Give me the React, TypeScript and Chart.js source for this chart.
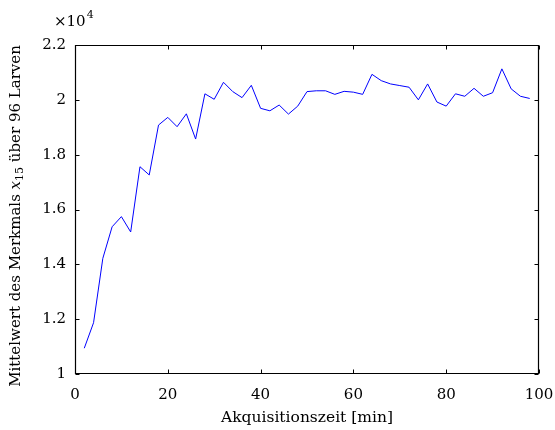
import React, { useEffect, useRef } from "react";
import { Chart, registerables } from "chart.js";

Chart.register(...registerables);

// Acquisition time in minutes
const minutes = [
  2, 4, 6, 8, 10, 12, 14, 16, 18, 20, 22, 24, 26, 28, 30, 32, 34, 36, 38, 40,
  42, 44, 46, 48, 50, 52, 54, 56, 58, 60, 62, 64, 66, 68, 70, 72, 74, 76, 78,
  80, 82, 84, 86, 88, 90, 92, 94, 96, 98,
];

// Mean value of feature x15 over 96 larvae
const meanValues = [
  10940, 11870, 14220, 15370, 15740, 15180, 17560, 17260, 19080, 19360,
  19020, 19490, 18570, 20220, 20020, 20640, 20300, 20080, 20530, 19690,
  19600, 19810, 19480, 19770, 20300, 20330, 20330, 20200, 20310, 20280,
  20200, 20930, 20700, 20580, 20520, 20460, 20000, 20580, 19920, 19770,
  20220, 20130, 20420, 20130, 20260, 21130, 20400, 20130, 20050,
];

const xTicks = [0, 20, 40, 60, 80, 100];
const yTicks = [10000, 12000, 14000, 16000, 18000, 20000, 22000];

const xTitle = "Akquisitionszeit [min]";
const yTitleBefore = "Mittelwert des Merkmals ";
const yTitleVar = "x";
const yTitleSub = "15";
const yTitleAfter = " über 96 Larven";
const scaleBase = "×10";
const scaleExp = "4";

const FONT = "'DejaVu Serif', serif";

const framePlugin = {
  id: "frameAndTitles",
  afterDraw(chart: any) {
    const { ctx, chartArea } = chart;
    const { left, right, top, bottom } = chartArea;
    const xs = chart.scales.x;
    const ys = chart.scales.y;
    ctx.save();
    ctx.strokeStyle = "#000";
    ctx.lineWidth = 1.2;
    const L = Math.round(left) + 0.5;
    const R = Math.round(right) - 0.5;
    const T = Math.round(top) + 0.5;
    const B = Math.round(bottom) - 0.5;
    ctx.beginPath();
    ctx.moveTo(L, T);
    ctx.lineTo(R, T);
    ctx.lineTo(R, B);
    ctx.lineTo(L, B);
    ctx.closePath();
    ctx.stroke();

    const tl = 4;
    ctx.lineWidth = 1;
    ctx.beginPath();
    xTicks.forEach((v) => {
      const px = Math.round(xs.getPixelForValue(v)) + 0.5;
      ctx.moveTo(px, B);
      ctx.lineTo(px, B - tl);
      ctx.moveTo(px, T);
      ctx.lineTo(px, T + tl);
    });
    yTicks.forEach((v) => {
      const py = Math.round(ys.getPixelForValue(v)) + 0.5;
      ctx.moveTo(L, py);
      ctx.lineTo(L + tl, py);
      ctx.moveTo(R, py);
      ctx.lineTo(R - tl, py);
    });
    ctx.stroke();

    ctx.fillStyle = "#000";
    // x title
    ctx.font = `15.5px ${FONT}`;
    ctx.textAlign = "center";
    ctx.textBaseline = "middle";
    ctx.fillText(xTitle, (left + right) / 2, 418);

    // y title (rotated, with italic variable and subscript)
    const mainFont = `15px ${FONT}`;
    const italFont = `italic 15px ${FONT}`;
    const subFont = `11px ${FONT}`;
    ctx.font = mainFont;
    const w1 = ctx.measureText(yTitleBefore).width;
    const w4 = ctx.measureText(yTitleAfter).width;
    ctx.font = italFont;
    const w2 = ctx.measureText(yTitleVar).width;
    ctx.font = subFont;
    const w3 = ctx.measureText(yTitleSub).width;
    const total = w1 + w2 + w3 + w4;
    ctx.save();
    ctx.translate(16, 216);
    ctx.rotate(-Math.PI / 2);
    ctx.textAlign = "left";
    ctx.textBaseline = "middle";
    let cx = -total / 2;
    ctx.font = mainFont;
    ctx.fillText(yTitleBefore, cx, 0);
    cx += w1;
    ctx.font = italFont;
    ctx.fillText(yTitleVar, cx, 0);
    cx += w2;
    ctx.font = subFont;
    ctx.fillText(yTitleSub, cx, 4);
    cx += w3;
    ctx.font = mainFont;
    ctx.fillText(yTitleAfter, cx, 0);
    ctx.restore();

    // x10^4 multiplier
    ctx.textAlign = "left";
    ctx.textBaseline = "middle";
    ctx.font = `15px ${FONT}`;
    const bx = 54;
    ctx.fillText(scaleBase, bx, 22);
    const bw = ctx.measureText(scaleBase).width;
    ctx.font = `11px ${FONT}`;
    ctx.fillText(scaleExp, bx + bw + 1, 15);
    ctx.restore();
  },
};

export default function App() {
  const canvasRef = useRef<HTMLCanvasElement | null>(null);

  useEffect(() => {
    if (!canvasRef.current) return;
    const data = minutes.map((m, i) => ({ x: m, y: meanValues[i] }));
    const chart = new Chart(canvasRef.current, {
      type: "line",
      data: {
        datasets: [
          {
            data,
            borderColor: "#0000ff",
            borderWidth: 1,
            pointRadius: 0,
            tension: 0,
            fill: false,
          },
        ],
      },
      options: {
        animation: false,
        responsive: false,
        maintainAspectRatio: false,
        layout: { padding: { top: 45, right: 16, left: 0, bottom: 0 } },
        plugins: {
          legend: { display: false },
          tooltip: { enabled: false },
        },
        scales: {
          x: {
            type: "linear",
            min: 0,
            max: 100,
            afterBuildTicks: (s: any) => {
              s.ticks = xTicks.map((v) => ({ value: v }));
            },
            afterFit: (s: any) => {
              s.height = 56;
              s.paddingLeft = 0;
              s.paddingRight = 0;
            },
            grid: { display: false, drawTicks: false, tickLength: 0 },
            border: { display: false },
            ticks: {
              color: "#000",
              font: { family: FONT, size: 15 },
              padding: 12,
              maxRotation: 0,
              autoSkip: false,
            },
          },
          y: {
            type: "linear",
            min: 10000,
            max: 22000,
            afterBuildTicks: (s: any) => {
              s.ticks = yTicks.map((v) => ({ value: v }));
            },
            afterFit: (s: any) => {
              s.width = 75;
              s.paddingTop = 0;
              s.paddingBottom = 0;
            },
            grid: { display: false, drawTicks: false, tickLength: 0 },
            border: { display: false },
            ticks: {
              color: "#000",
              font: { family: FONT, size: 15 },
              padding: 9,
              autoSkip: false,
              callback: (v: any) => String(Math.round(Number(v) / 1000) / 10),
            },
          },
        },
      },
      plugins: [framePlugin],
    });
    return () => chart.destroy();
  }, []);

  return (
    <div style={{ position: "absolute", left: 0, top: 0, width: 555, height: 430, background: "#fff" }}>
      <canvas ref={canvasRef} width={555} height={430} style={{ display: "block" }} />
    </div>
  );
}
